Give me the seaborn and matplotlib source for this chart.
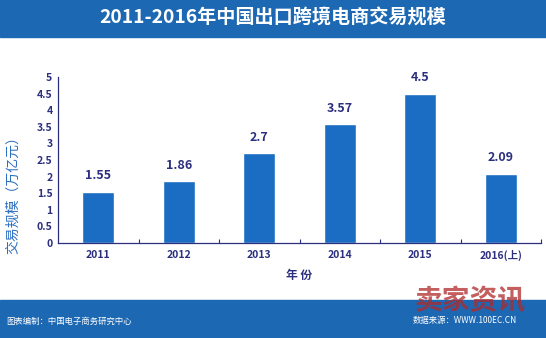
import matplotlib
matplotlib.use("Agg")
import matplotlib.pyplot as plt
import seaborn as sns
import pandas as pd
from matplotlib.patches import Rectangle

years = ["2011", "2012", "2013", "2014", "2015", "2016(上)"]
values = [1.55, 1.86, 2.7, 3.57, 4.5, 2.09]
value_labels = ["1.55", "1.86", "2.7", "3.57", "4.5", "2.09"]
y_ticks = [0, 0.5, 1, 1.5, 2, 2.5, 3, 3.5, 4, 4.5, 5]
y_tick_labels = ["0", "0.5", "1", "1.5", "2", "2.5", "3", "3.5", "4", "4.5", "5"]

sns.set_theme(style="white")
plt.rcParams["font.family"] = ["Noto Sans CJK SC", "DejaVu Sans"]

BAND = "#1c68b3"
BAR = "#1a6dc2"
NAVY = "#2b2f7e"
LABEL_BLUE = "#2c6fc0"

fig = plt.figure(figsize=(5.46, 3.38), dpi=100)

# header and footer bands
fig.patches.append(Rectangle((0, 1 - 37 / 338), 1, 37 / 338, transform=fig.transFigure,
                             color=BAND, zorder=0))
fig.patches.append(Rectangle((0, 0), 1, 38 / 338, transform=fig.transFigure,
                             color=BAND, zorder=0))

ax = fig.add_axes([58 / 546, 1 - 243 / 338, (541 - 58) / 546, (243 - 77) / 338])
ax.set_facecolor("none")

df = pd.DataFrame({"year": years, "value": values})
sns.barplot(data=df, x="year", y="value", color=BAR, width=0.4, saturation=1, ax=ax)

for i, (v, lab) in enumerate(zip(values, value_labels)):
    ax.text(i, v + 0.28, lab, ha="center", va="bottom", color=NAVY,
            fontsize=9, fontweight="bold")

ax.set_ylim(0, 5)
ax.set_xlim(-0.5, len(years) - 0.5)
ax.set_yticks(y_ticks)
ax.set_yticklabels(y_tick_labels)
ax.set_xticks(range(len(years)))
ax.set_xticklabels(years)
ax.tick_params(axis="x", length=0, pad=5, labelsize=7.5, labelcolor=NAVY)
ax.tick_params(axis="y", direction="in", length=3, width=0.8, color=NAVY,
               pad=4, labelsize=7.5, labelcolor=NAVY)
for t in ax.get_xticklabels() + ax.get_yticklabels():
    t.set_fontweight("bold")

# separators between categories on the baseline
ax.set_xticks([i + 0.5 for i in range(len(years))], minor=True)
ax.tick_params(axis="x", which="minor", direction="in", length=3, width=0.8,
               color=NAVY, bottom=True)

for side in ["top", "right"]:
    ax.spines[side].set_visible(False)
for side in ["left", "bottom"]:
    ax.spines[side].set_color(NAVY)
    ax.spines[side].set_linewidth(0.9)

ax.set_xlabel("年 份", color=NAVY, fontsize=8.5, fontweight="bold", labelpad=6)
ax.set_ylabel("交易规模（万亿元）", color=LABEL_BLUE, fontsize=10)
ax.yaxis.set_label_coords(-0.078, 0.31)

fig.text(0.5, 1 - 18 / 338, "2011-2016年中国出口跨境电商交易规模", ha="center",
         va="center", color="white", fontsize=13.8, fontweight="bold")
fig.text(6 / 546, 1 - 321 / 338, "图表编制：中国电子商务研究中心", ha="left",
         va="center", color="white", fontsize=6)
fig.text(517 / 546, 1 - 321 / 338, "数据来源：WWW.100EC.CN", ha="right",
         va="center", color="white", fontsize=6)
fig.text(415 / 546, 1 - 301 / 338, "卖家资讯", ha="left", va="center",
         color="#b02a2a", alpha=0.75, fontsize=20, fontweight="bold")

fig.savefig("out.png", dpi=100)
